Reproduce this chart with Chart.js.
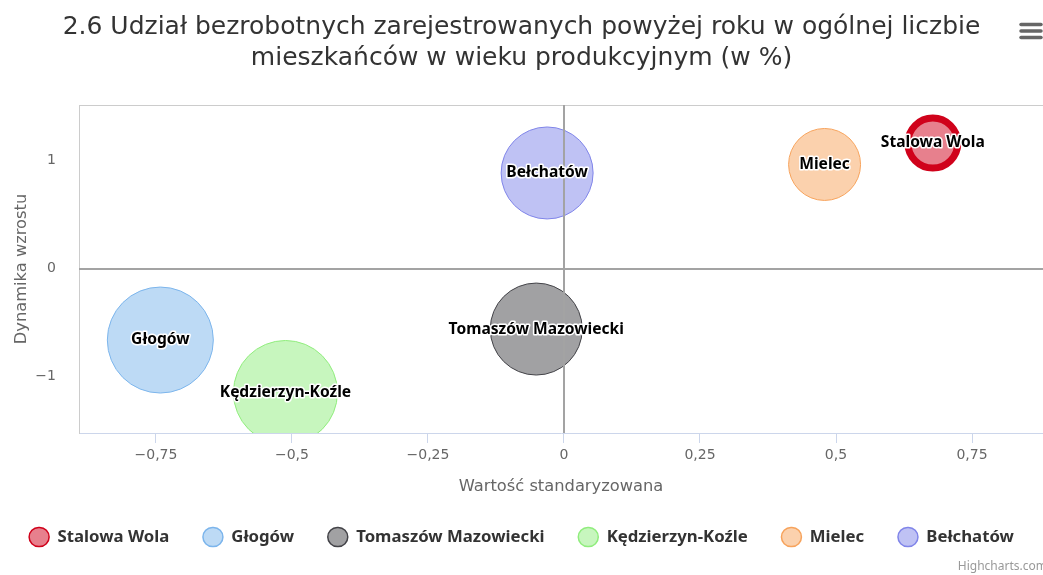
<!DOCTYPE html>
<html><head><meta charset="utf-8">
<script src="https://cdn.jsdelivr.net/npm/chart.js@4"></script>
<style>html,body{margin:0;padding:0;background:#fff}#wrap{width:1043px;height:575px;position:relative}canvas{display:block}</style>
</head><body><div id="wrap"><canvas id="c" width="1043" height="575"></canvas></div>
<script>
const titleLines = ['2.6 Udział bezrobotnych zarejestrowanych powyżej roku w ogólnej liczbie', 'mieszkańców w wieku produkcyjnym (w %)'];
const cities = ['Stalowa Wola', 'Głogów', 'Tomaszów Mazowiecki', 'Kędzierzyn-Koźle', 'Mielec', 'Bełchatów'];
const xValues = [0.678, -0.742, -0.051, -0.512, 0.479, -0.031];
const yValues = [1.165, -0.664, -0.562, -1.151, 0.966, 0.887];
const zValues = [22.2, 100, 75.3, 96.3, 46.1, 75.3];
const xTickValues = [-0.75, -0.5, -0.25, 0, 0.25, 0.5, 0.75];
const xTickLabels = ['−0,75', '−0,5', '−0,25', '0', '0,25', '0,5', '0,75'];
const yTickValues = [-1, 0, 1];
const yTickLabels = ['−1', '0', '1'];
const xAxisTitle = 'Wartość standaryzowana';
const yAxisTitle = 'Dynamika wzrostu';
const creditText = 'Highcharts.com';

const seriesColors = ['#d0021b', '#7cb5ec', '#434348', '#90ed7d', '#f7a35c', '#8085e9'];
const seriesBorderWidths = [7, 1, 1, 1, 1, 1];
const FONT = '"DejaVu Sans", "Noto Sans", sans-serif';
const BOLD_FONT = '"Noto Sans", "DejaVu Sans", sans-serif';
const MAX_R = 53;

function hexA(hex, a) {
  const n = parseInt(hex.slice(1), 16);
  return `rgba(${(n >> 16) & 255},${(n >> 8) & 255},${n & 255},${a})`;
}
function rFromZ(z) { return MAX_R * Math.sqrt(z / 100); }

const datasets = cities.map((name, i) => ({
  label: name,
  data: [{ x: xValues[i], y: yValues[i], r: rFromZ(zValues[i]) }],
  backgroundColor: hexA(seriesColors[i], 0.5),
  borderColor: seriesColors[i],
  borderWidth: seriesBorderWidths[i],
  clip: 0
}));

const extrasPlugin = {
  id: 'extras',
  beforeDatasetsDraw(chart) {
    const ctx = chart.ctx, a = chart.chartArea;
    ctx.save();
    ctx.strokeStyle = '#cccccc';
    ctx.lineWidth = 1;
    ctx.beginPath();
    ctx.moveTo(a.left, Math.round(a.top) + 0.5);
    ctx.lineTo(a.right, Math.round(a.top) + 0.5);
    ctx.stroke();
    ctx.restore();
  },
  afterDatasetsDraw(chart) {
    const ctx = chart.ctx, a = chart.chartArea;
    const xs = chart.scales.x, ys = chart.scales.y;
    ctx.save();
    ctx.beginPath();
    ctx.rect(a.left, a.top, a.right - a.left, a.bottom - a.top);
    ctx.clip();
    ctx.strokeStyle = '#a3a3a3';
    ctx.lineWidth = 2;
    const x0 = Math.round(xs.getPixelForValue(0));
    const y0 = Math.round(ys.getPixelForValue(0));
    ctx.beginPath();
    ctx.moveTo(x0, a.top); ctx.lineTo(x0, a.bottom);
    ctx.moveTo(a.left, y0); ctx.lineTo(a.right, y0);
    ctx.stroke();
    ctx.restore();

    ctx.save();
    ctx.font = 'bold 15.6px ' + BOLD_FONT;
    ctx.textAlign = 'center';
    ctx.textBaseline = 'middle';
    ctx.lineJoin = 'round';
    ctx.strokeStyle = '#ffffff';
    ctx.lineWidth = 3;
    ctx.fillStyle = '#000000';
    chart.data.datasets.forEach((ds, i) => {
      const el = chart.getDatasetMeta(i).data[0];
      ctx.strokeText(ds.label, el.x, el.y);
      ctx.fillText(ds.label, el.x, el.y);
    });
    ctx.restore();
  },
  afterDraw(chart) {
    const ctx = chart.ctx;
    ctx.save();
    ctx.strokeStyle = '#666666';
    ctx.lineWidth = 3.5;
    ctx.lineCap = 'round';
    [24.5, 31, 37.5].forEach(y => {
      ctx.beginPath(); ctx.moveTo(1021, y); ctx.lineTo(1041, y); ctx.stroke();
    });
    ctx.font = '12px ' + BOLD_FONT;
    ctx.fillStyle = '#999999';
    ctx.textAlign = 'right';
    ctx.textBaseline = 'middle';
    ctx.fillText(creditText, 1047, 567);
    ctx.restore();
  }
};

new Chart(document.getElementById('c'), {
  type: 'bubble',
  data: { datasets },
  plugins: [extrasPlugin],
  options: {
    responsive: false,
    animation: false,
    events: [],
    devicePixelRatio: 1,
    layout: { autoPadding: false, padding: { left: -20, right: -20, top: 0, bottom: 18.5 } },
    plugins: {
      title: {
        display: true,
        text: titleLines,
        color: '#333333',
        font: { family: FONT, size: 25, weight: 'normal', lineHeight: 1.24 },
        padding: { top: 12, bottom: 31 }
      },
      legend: {
        display: true,
        position: 'bottom',
        labels: {
          usePointStyle: false,
          boxWidth: 20,
          boxHeight: 19,
          padding: 33.7,
          color: '#333333',
          font: { family: BOLD_FONT, size: 16.75, weight: 'bold' },
          generateLabels(chart) {
            const items = Chart.defaults.plugins.legend.labels.generateLabels(chart);
            items.forEach(it => { it.lineWidth = 1.5; it.borderRadius = 9.5; });
            return items;
          }
        }
      },
      tooltip: { enabled: false }
    },
    scales: {
      x: {
        type: 'linear',
        min: -0.8915,
        max: 0.8805,
        afterBuildTicks(scale) { scale.ticks = xTickValues.map(v => ({ value: v })); },
        afterFit(scale) { scale.height = 60.8; scale.paddingLeft = 0; scale.paddingRight = 0; },
        ticks: {
          autoSkip: false,
          maxRotation: 0,
          padding: 3.5,
          color: '#666666',
          font: { family: FONT, size: 14 },
          callback(value) { const k = xTickValues.indexOf(value); return k >= 0 ? xTickLabels[k] : ''; }
        },
        grid: { display: true, drawOnChartArea: false, drawTicks: true, tickLength: 10, color: '#ccd6eb', lineWidth: 1 },
        border: { display: true, color: '#ccd6eb', width: 1 },
        title: { display: true, text: xAxisTitle, color: '#666666', font: { family: FONT, size: 16.3 }, padding: { top: 0, bottom: -2.8 } }
      },
      y: {
        type: 'linear',
        min: -1.527,
        max: 1.518,
        afterBuildTicks(scale) { scale.ticks = yTickValues.map(v => ({ value: v })); },
        afterFit(scale) { scale.width = 99; },
        ticks: {
          padding: 23,
          color: '#666666',
          font: { family: FONT, size: 14 },
          callback(value) { const k = yTickValues.indexOf(value); return k >= 0 ? yTickLabels[k] : ''; }
        },
        grid: { display: false, drawTicks: false },
        border: { display: true, color: '#cccccc', width: 1 },
        title: { display: true, text: yAxisTitle, color: '#666666', font: { family: FONT, size: 16.3 }, padding: { top: 32, bottom: 0 } }
      }
    }
  }
});
</script>
</body></html>
